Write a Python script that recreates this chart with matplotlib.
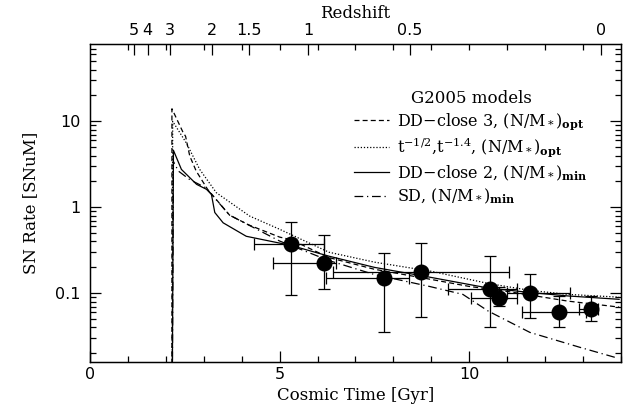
import numpy as np
import matplotlib
matplotlib.use('Agg')
import matplotlib.pyplot as plt
from matplotlib.ticker import FixedLocator, LogLocator, NullFormatter

# observed SN rates (points with errors)
obs_t = [5.31, 6.18, 7.76, 8.73, 10.54, 10.79, 11.60, 12.37, 13.20]
obs_r = [0.37, 0.223, 0.152, 0.179, 0.111, 0.089, 0.100, 0.0606, 0.0664]
obs_t_lo = [4.32, 4.82, 6.21, 6.40, 9.45, 10.04, 11.00, 11.38, 12.90]
obs_t_hi = [6.17, 6.49, 8.42, 11.05, 11.27, 11.25, 12.65, 13.07, 13.40]
obs_r_lo = [0.096, 0.111, 0.0355, 0.0536, 0.0406, 0.0712, 0.051, 0.0406, 0.047]
obs_r_hi = [0.67, 0.476, 0.297, 0.388, 0.272, 0.117, 0.166, 0.093, 0.093]

# G2005 model curves
dd3_t = [2.16, 2.16, 2.45, 2.52, 2.63, 2.8, 3.1, 3.68, 4.2, 5.0, 5.3, 6.3, 7.5, 8.95, 10.0, 11.0, 12.6, 13.95]
dd3_r = [0.001, 14, 7.5, 6.7, 3.95, 2.64, 1.62, 0.81, 0.62, 0.45, 0.42, 0.26, 0.19, 0.146, 0.12, 0.105, 0.081, 0.069]

pow_t = [2.16, 2.18, 2.54, 2.89, 3.33, 4.21, 5.0, 6.3, 7.5, 9.0, 10.5, 11.6, 12.6, 13.95]
pow_r = [0.001, 10, 5.6, 2.77, 1.48, 0.79, 0.555, 0.3, 0.23, 0.18, 0.13, 0.108, 0.097, 0.09]

dd2_t = [2.16, 2.2, 2.41, 2.81, 3.07, 3.2, 3.29, 3.51, 4.12, 5.3, 6.3, 7.5, 8.95, 10.5, 11.6, 12.6, 13.95]
dd2_r = [0.001, 4.6, 2.76, 1.85, 1.62, 1.42, 0.87, 0.66, 0.46, 0.36, 0.27, 0.2, 0.154, 0.115, 0.102, 0.093, 0.085]

sd_t = [2.16, 2.2, 2.33, 2.63, 3.05, 3.68, 5.0, 6.3, 7.5, 8.95, 9.83, 10.5, 11.6, 12.9, 13.85]
sd_r = [0.001, 3.4, 2.64, 2.1, 1.69, 0.81, 0.405, 0.24, 0.165, 0.12, 0.097, 0.062, 0.035, 0.0236, 0.0179]

z_ticks = [5, 4, 3, 2, 1.5, 1, 0.5, 0]
z_labels = ['5', '4', '3', '2', '1.5', '1', '0.5', '0']


def age(z, h0=70.0, om=0.3):
    # flat LCDM age in Gyr
    ol = 1.0 - om
    th = 977.8 / h0
    return 2.0 / (3.0 * np.sqrt(ol)) * th * np.arcsinh(np.sqrt(ol / om) * (1.0 + np.asarray(z)) ** -1.5)


serif = 'DejaVu Serif'
plt.rcParams['font.family'] = 'DejaVu Sans'
plt.rcParams['mathtext.fontset'] = 'dejavuserif'

fig = plt.figure(figsize=(6.33, 4.12), dpi=100)
ax = fig.add_axes([90 / 633, 1 - 362 / 412, 531 / 633, 318 / 412])

lw = 0.9
ax.plot(dd3_t, dd3_r, color='black', lw=lw, ls=(0, (4, 2.5)), label=r'DD$-$close 3, (N/M$_*$)$_{\mathbf{opt}}$')
ax.plot(pow_t, pow_r, color='black', lw=lw, ls=(0, (1, 1.5)), label=r't$^{-1/2}$,t$^{-1.4}$, (N/M$_*$)$_{\mathbf{opt}}$')
ax.plot(dd2_t, dd2_r, color='black', lw=lw, ls='-', label=r'DD$-$close 2, (N/M$_*$)$_{\mathbf{min}}$')
ax.plot(sd_t, sd_r, color='black', lw=lw, ls=(0, (7, 3, 1, 3)), label=r'SD, (N/M$_*$)$_{\mathbf{min}}$')

obs_t = np.array(obs_t)
obs_r = np.array(obs_r)
xerr = [obs_t - np.array(obs_t_lo), np.array(obs_t_hi) - obs_t]
yerr = [obs_r - np.array(obs_r_lo), np.array(obs_r_hi) - obs_r]
ax.errorbar(obs_t, obs_r, xerr=xerr, yerr=yerr, fmt='o', color='black', ms=10.5,
            elinewidth=0.9, capsize=4.5, capthick=0.9, zorder=5)

ax.set_yscale('log')
ax.set_xlim(0, 14)
ax.set_ylim(10 ** -1.8, 10 ** 1.9)
ax.set_xticks([0, 5, 10])
ax.xaxis.set_minor_locator(FixedLocator(np.arange(0, 15, 1)))
ax.yaxis.set_minor_locator(LogLocator(base=10, subs=np.arange(2, 10), numticks=20))
ax.yaxis.set_minor_formatter(NullFormatter())
ax.set_yticks([0.1, 1, 10])
ax.set_yticklabels(['0.1', '1', '10'])
ax.tick_params(which='both', direction='in', top=False, right=True, labelsize=11.5, width=0.9)
ax.tick_params(axis='y', pad=7)
ax.tick_params(which='major', length=8)
ax.tick_params(which='minor', length=4)
for s in ax.spines.values():
    s.set_linewidth(1.0)

ax.set_xlabel('Cosmic Time [Gyr]', fontsize=12, family=serif, labelpad=4)
ax.set_ylabel('SN Rate [SNuM]', fontsize=12, family=serif, labelpad=11)

top = ax.twiny()
top.set_xlim(ax.get_xlim())
top.set_xticks(age(z_ticks))
top.set_xticklabels(z_labels)
top.xaxis.set_minor_locator(FixedLocator(np.arange(1, 14, 1)))
top.tick_params(which='both', direction='in', labelsize=11.5, width=0.9, pad=4)
top.tick_params(which='major', length=8)
top.tick_params(which='minor', length=4)
top.set_xlabel('Redshift', fontsize=12, family=serif, labelpad=4)

leg = ax.legend(loc='upper right', bbox_to_anchor=(0.965, 0.9), frameon=False,
                title='G2005 models', handlelength=2.2, handletextpad=0.5,
                labelspacing=0.25, prop={'family': serif, 'size': 11.5})
leg.get_title().set_fontfamily(serif)
leg.get_title().set_fontsize(12)

fig.savefig('out.png', dpi=100)
